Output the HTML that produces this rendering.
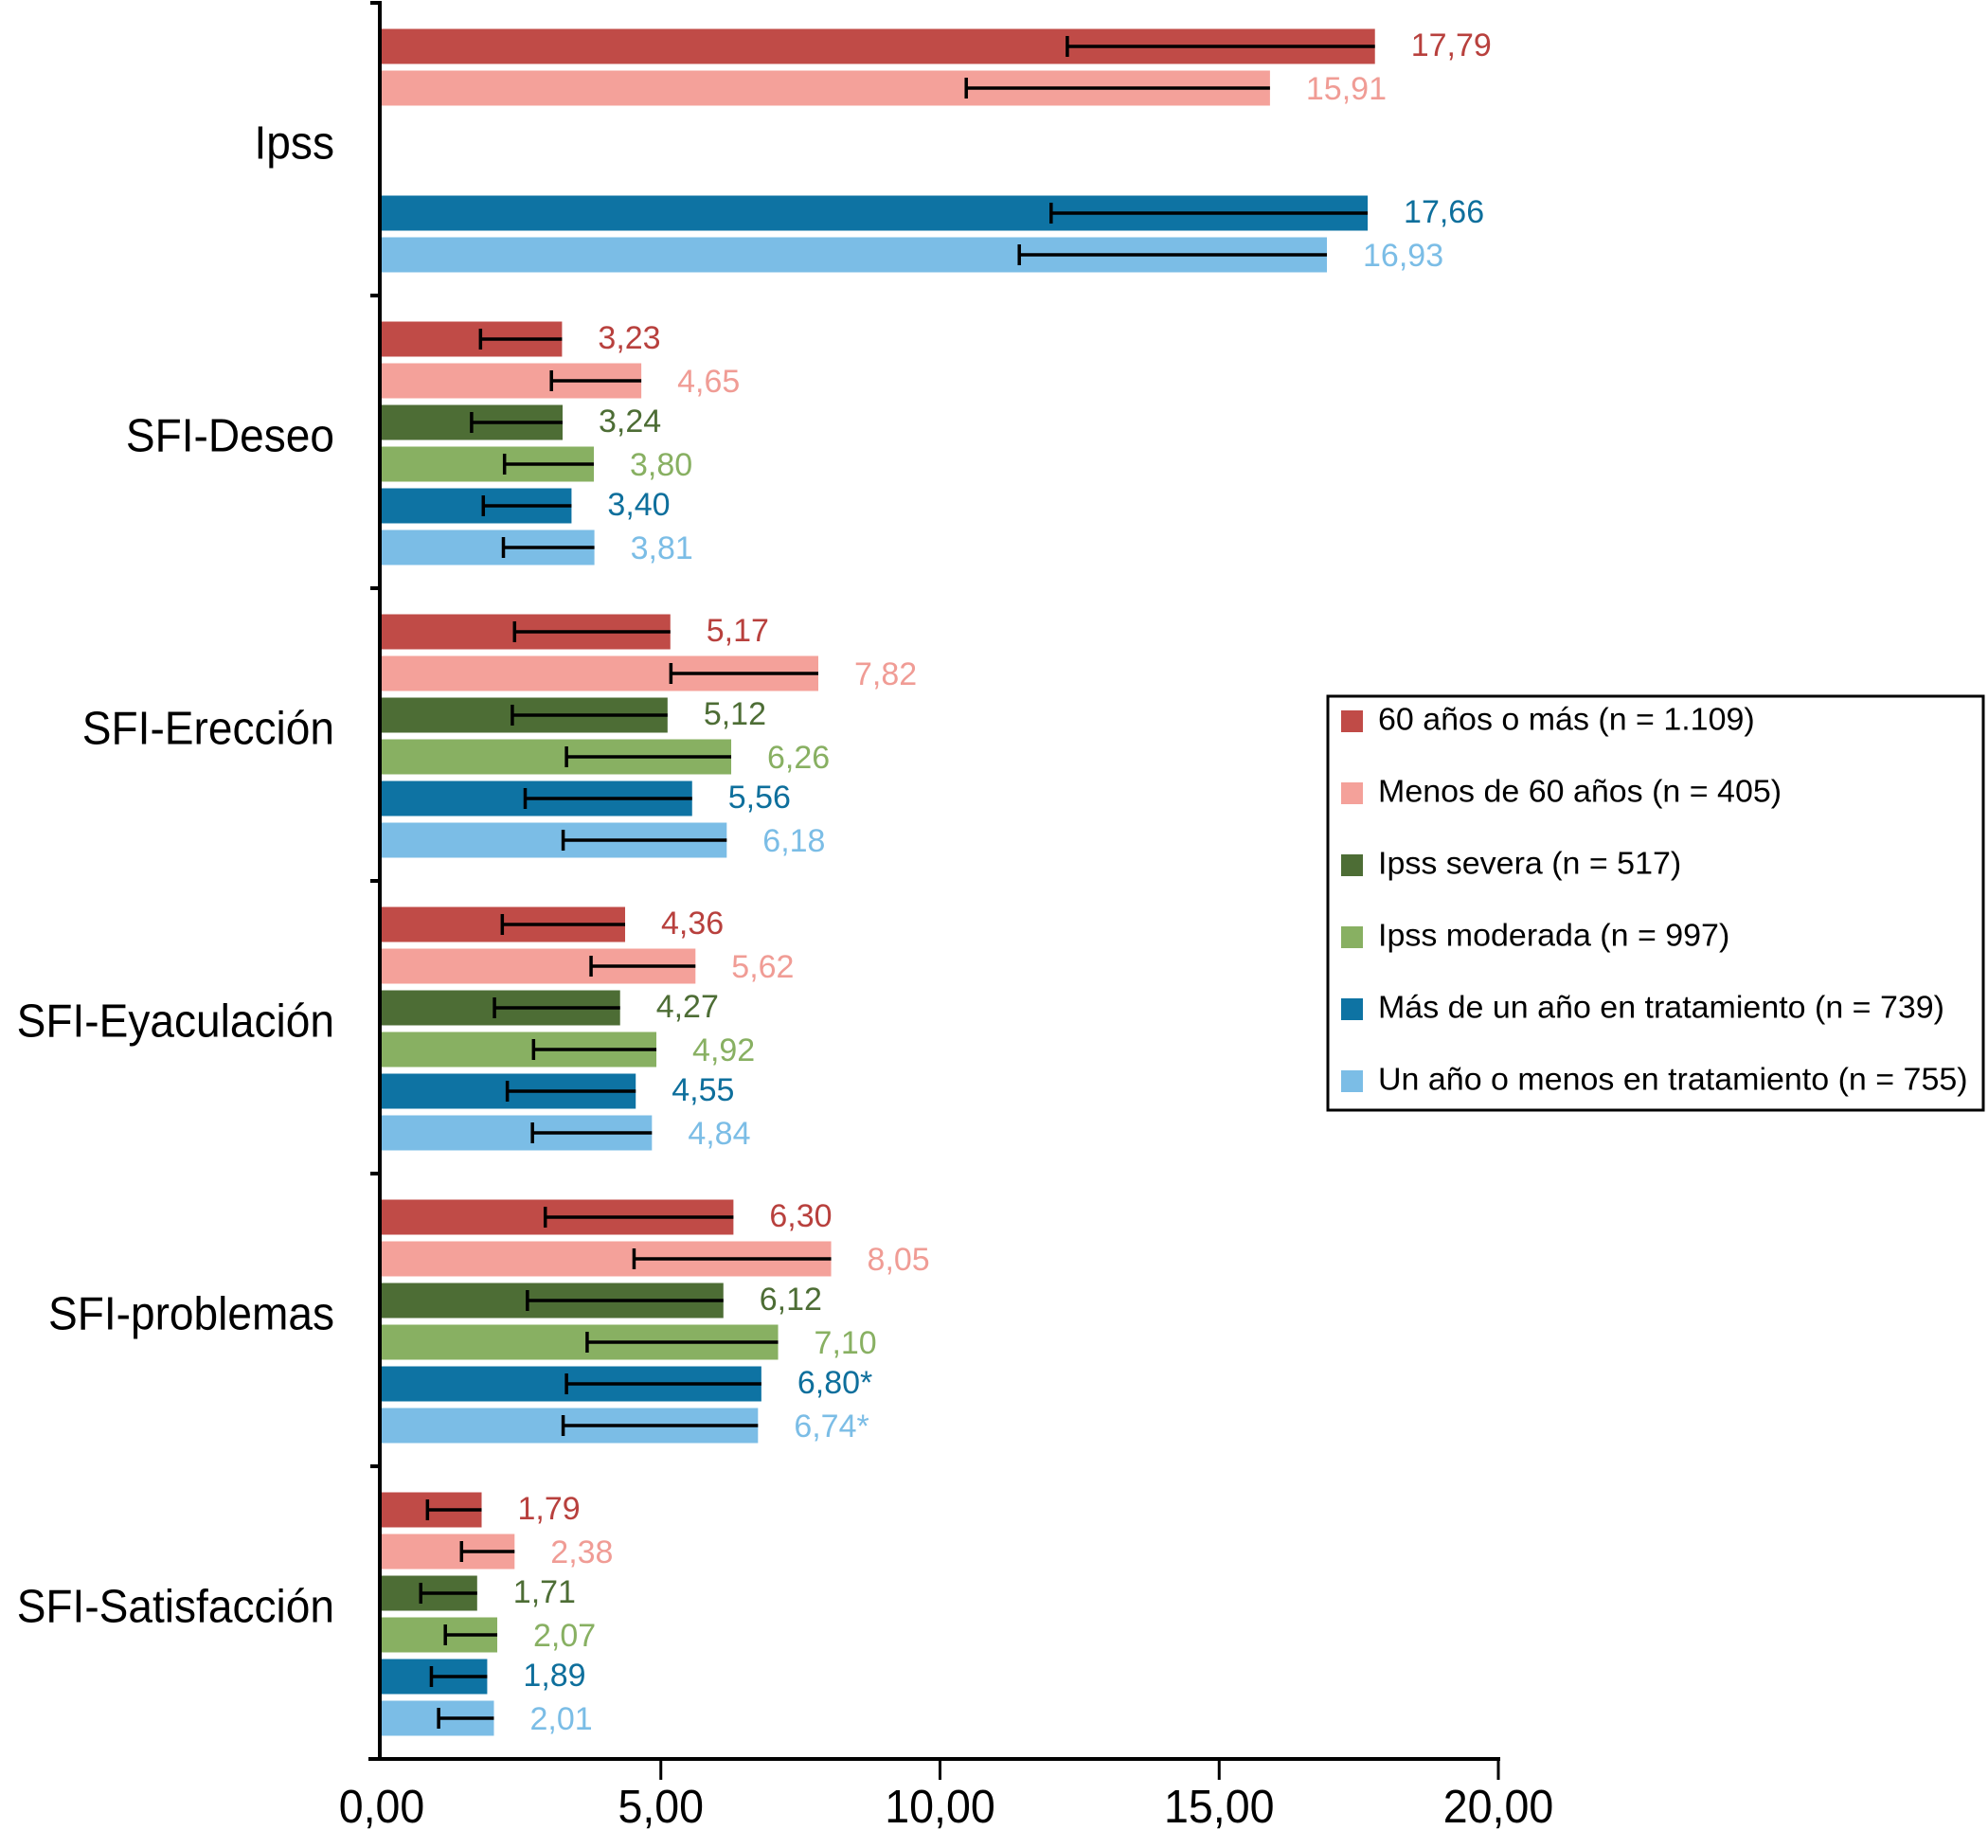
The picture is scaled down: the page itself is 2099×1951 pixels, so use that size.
<!DOCTYPE html>
<html><head><meta charset="utf-8"><style>
html,body{margin:0;padding:0;background:#fff;}
svg{display:block;font-family:"Liberation Sans",Arial,sans-serif;}
</style></head><body>
<svg id="chart" width="2099" height="1951" viewBox="0 0 2099 1951" xmlns="http://www.w3.org/2000/svg"></svg>
<script>
const categories = ["Ipss","SFI-Deseo","SFI-Erección","SFI-Eyaculación","SFI-problemas","SFI-Satisfacción"];
const seriesNames = ["60 años o más (n = 1.109)","Menos de 60 años (n = 405)","Ipss severa (n = 517)","Ipss moderada (n = 997)","Más de un año en tratamiento (n = 739)","Un año o menos en tratamiento (n = 755)"];
const s60mas   = [17.79, 3.23, 5.17, 4.36, 6.30, 1.79];
const sMenos60 = [15.91, 4.65, 7.82, 5.62, 8.05, 2.38];
const sSevera  = [null,  3.24, 5.12, 4.27, 6.12, 1.71];
const sModer   = [null,  3.80, 6.26, 4.92, 7.10, 2.07];
const sMasAnio = [17.66, 3.40, 5.56, 4.55, 6.80, 1.89];
const sUnAnio  = [16.93, 3.81, 6.18, 4.84, 6.74, 2.01];
const e60mas   = [12.28, 1.77, 2.38, 2.16, 2.93, 0.82];
const eMenos60 = [10.47, 3.04, 5.18, 3.75, 4.52, 1.43];
const eSevera  = [null,  1.61, 2.34, 2.02, 2.61, 0.70];
const eModer   = [null,  2.20, 3.31, 2.72, 3.68, 1.14];
const eMasAnio = [11.99, 1.82, 2.57, 2.25, 3.31, 0.89];
const eUnAnio  = [11.42, 2.18, 3.25, 2.70, 3.25, 1.02];
const valueLabels = [
 ["17,79","3,23","5,17","4,36","6,30","1,79"],
 ["15,91","4,65","7,82","5,62","8,05","2,38"],
 ["","3,24","5,12","4,27","6,12","1,71"],
 ["","3,80","6,26","4,92","7,10","2,07"],
 ["17,66","3,40","5,56","4,55","6,80*","1,89"],
 ["16,93","3,81","6,18","4,84","6,74*","2,01"]];
const xTicks = [0,5,10,15,20];
const xTickLabels = ["0,00","5,00","10,00","15,00","20,00"];

const series = [s60mas,sMenos60,sSevera,sModer,sMasAnio,sUnAnio];
const errs = [e60mas,eMenos60,eSevera,eModer,eMasAnio,eUnAnio];
const colors = ["#c04b47","#f4a19a","#4d6d35","#88b062","#0e73a3","#7bbde6"];
const textColors = ["#b8403d","#f09c95","#4d6d35","#88b062","#0e6f9c","#7bbde6"];
const NS="http://www.w3.org/2000/svg";
const svg=document.getElementById('chart');
const X0=403, X1=1582, YTOP=3, YBOT=1857, GROUP=309, SLOT=44, BH=37;
function xScale(v){return X0+(v/20)*(X1-X0);}
function groupTop(i){return YTOP+i*GROUP;}
function mk(tag,attrs){const e=document.createElementNS(NS,tag);for(const k in attrs)e.setAttribute(k,attrs[k]);svg.appendChild(e);return e;}
function squeeze(t,f){const w=t.getComputedTextLength();t.setAttribute('textLength',(w*f).toFixed(1));t.setAttribute('lengthAdjust','spacingAndGlyphs');}

categories.forEach((c,i)=>{
  const gt=groupTop(i);
  const lab=mk('text',{x:353,y:gt+GROUP/2-3,'font-size':49,'text-anchor':'end','dominant-baseline':'middle',fill:'#000'});
  lab.textContent=c;
  
  
  squeeze(lab,0.94);
  series.forEach((s,j)=>{
    const v=s[i]; if(v==null) return;
    const cy=gt+46+j*SLOT;
    const r=mk('rect',{x:X0,y:cy-BH/2,width:xScale(v)-X0,height:BH,fill:colors[j]});
    
    
    const lo=xScale(errs[j][i]);
    const l=mk('line',{x1:lo,x2:xScale(v),y1:cy,y2:cy,stroke:'#000','stroke-width':3.5});
    
    
    const t=mk('line',{x1:lo,x2:lo,y1:cy-11,y2:cy+11,stroke:'#000','stroke-width':3.5});
    
    
    const vt=mk('text',{x:xScale(v)+38,y:cy+(j%2?3:1),'font-size':34,'dominant-baseline':'middle',fill:textColors[j]});
    vt.textContent=valueLabels[j][i];
    
    
  });
});

const ya=mk('line',{x1:X0-2,x2:X0-2,y1:YTOP,y2:YBOT+2,stroke:'#000','stroke-width':4});


for(let i=0;i<=categories.length;i++){
  const y=YTOP+i*GROUP;
  const tk=mk('line',{x1:X0-12,x2:X0,y1:y,y2:y,stroke:'#000','stroke-width':4});
  
  
}
const xa=mk('line',{x1:X0-14,x2:X1+2,y1:YBOT,y2:YBOT,stroke:'#000','stroke-width':4});


xTicks.forEach((v,k)=>{
  const x=xScale(v);
  if(k>0){const tk=mk('line',{x1:x,x2:x,y1:YBOT,y2:YBOT+22,stroke:'#000','stroke-width':3});
  
  }
  const tl=mk('text',{x:x,y:1911,'font-size':49,'text-anchor':'middle','dominant-baseline':'middle',fill:'#000'});
  tl.textContent=xTickLabels[k];
  
  
  squeeze(tl,0.95);
});

const lb=mk('rect',{x:1402,y:735,width:692,height:437,fill:'#fff',stroke:'#000','stroke-width':3});


seriesNames.forEach((n,j)=>{
  const cy=761+j*76;
  const sw=mk('rect',{x:1416,y:cy-11,width:23,height:23,fill:colors[j]});
  
  
  const t=mk('text',{x:1455,y:cy+1,'font-size':33,'dominant-baseline':'middle',fill:'#000'});
  t.textContent=n;
  
  
  squeeze(t,1.03);
});
</script>
</body></html>
